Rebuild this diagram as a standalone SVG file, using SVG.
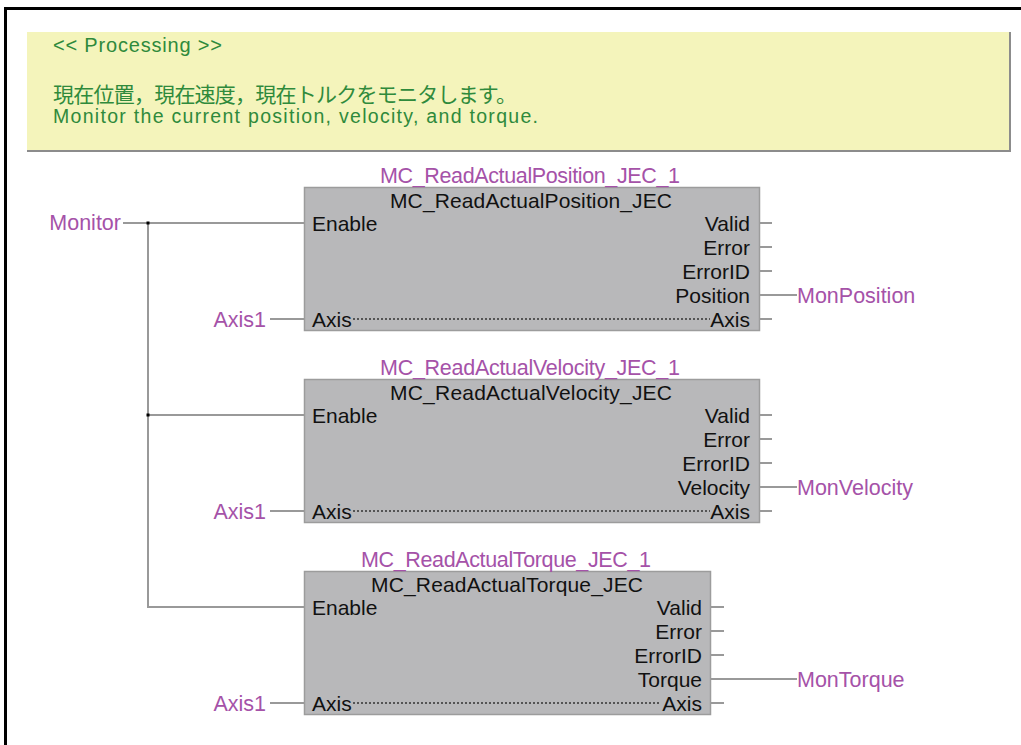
<svg xmlns="http://www.w3.org/2000/svg" width="1021" height="745" viewBox="0 0 1021 745">
<style>
.frame{fill:none;stroke:#000;stroke-width:3}
.note{fill:#F4F4BB}
.noteedge{fill:none;stroke:#8c8c8c;stroke-width:2}
.gt{fill:#2F8A3C;font-family:"Liberation Sans","Noto Sans CJK JP",sans-serif}
.blk{fill:#B8B8BA;stroke:#9c9c9c;stroke-width:1.5}
.pin{fill:#111;font-family:"Liberation Sans",Arial,sans-serif;font-size:21px}
.var{fill:#A552A8;font-family:"Liberation Sans",Arial,sans-serif;font-size:21.5px}
.w{fill:none;stroke:#999;stroke-width:2}
.dot{fill:none;stroke:#333;stroke-width:1.3;stroke-dasharray:2 2}
.end{text-anchor:end}
.mid{text-anchor:middle}
</style>
<rect class="frame" x="5.5" y="8.5" width="1040" height="760"/>
<g id="comment">
<rect class="note" x="27" y="32" width="983" height="119"/>
<polyline class="noteedge" points="1010,32 1010,151 27,151"/>
<text class="gt" x="53" y="52" font-size="20" textLength="169">&lt;&lt; Processing &gt;&gt;</text>
<text class="gt" x="53" y="102" font-size="21" textLength="464" font-family="'Noto Sans CJK JP',sans-serif">現在位置，現在速度，現在トルクをモニタします。</text>
<text class="gt" x="53" y="123" font-size="19.5" textLength="485">Monitor the current position, velocity, and torque.</text>
</g>
<g id="connectors">
<line class="w" x1="123" y1="223" x2="304" y2="223"/>
<line class="w" x1="148" y1="223" x2="148" y2="607"/>
<line class="w" x1="148" y1="415" x2="304" y2="415"/>
<line class="w" x1="147" y1="607" x2="304" y2="607"/>
<rect x="146.5" y="221.5" width="3" height="3" fill="#000"/>
<rect x="146.5" y="413.5" width="3" height="3" fill="#000"/>
<line class="w" x1="270" y1="319" x2="304" y2="319"/>
<line class="w" x1="270" y1="511" x2="304" y2="511"/>
<line class="w" x1="270" y1="703" x2="304" y2="703"/>
<line class="w" x1="760" y1="295" x2="797" y2="295"/>
<line class="w" x1="760" y1="487" x2="797" y2="487"/>
<line class="w" x1="711" y1="679" x2="797" y2="679"/>
<g stroke="#999" stroke-width="2">
<line x1="760" y1="223" x2="772" y2="223"/><line x1="760" y1="247" x2="772" y2="247"/><line x1="760" y1="271" x2="772" y2="271"/><line x1="760" y1="319" x2="772" y2="319"/>
<line x1="760" y1="415" x2="772" y2="415"/><line x1="760" y1="439" x2="772" y2="439"/><line x1="760" y1="463" x2="772" y2="463"/><line x1="760" y1="511" x2="772" y2="511"/>
<line x1="711" y1="607" x2="724" y2="607"/><line x1="711" y1="631" x2="724" y2="631"/><line x1="711" y1="655" x2="724" y2="655"/><line x1="711" y1="703" x2="724" y2="703"/>
</g>
</g>
<g id="monitor"><text class="var end" x="121" y="230">Monitor</text></g>
<g id="block_position">
<rect class="blk" x="304.5" y="187.5" width="455" height="143"/>
<text class="var mid" x="530" y="183" textLength="300">MC_ReadActualPosition_JEC_1</text>
<text class="pin mid" x="531" y="208" textLength="282">MC_ReadActualPosition_JEC</text>
<text class="pin" x="312" y="231">Enable</text>
<text class="pin" x="312" y="327">Axis</text>
<line class="dot" x1="353" y1="319" x2="710" y2="319"/>
<text class="pin end" x="750" y="231">Valid</text>
<text class="pin end" x="750" y="255">Error</text>
<text class="pin end" x="750" y="279">ErrorID</text>
<text class="pin end" x="750" y="303">Position</text>
<text class="pin end" x="750" y="327">Axis</text>
<text class="var end" x="266" y="327">Axis1</text>
<text class="var" x="797" y="303">MonPosition</text>
</g>
<g id="block_velocity">
<rect class="blk" x="304.5" y="379.5" width="455" height="143"/>
<text class="var mid" x="530" y="375" textLength="300">MC_ReadActualVelocity_JEC_1</text>
<text class="pin mid" x="531" y="400" textLength="282">MC_ReadActualVelocity_JEC</text>
<text class="pin" x="312" y="423">Enable</text>
<text class="pin" x="312" y="519">Axis</text>
<line class="dot" x1="353" y1="511" x2="710" y2="511"/>
<text class="pin end" x="750" y="423">Valid</text>
<text class="pin end" x="750" y="447">Error</text>
<text class="pin end" x="750" y="471">ErrorID</text>
<text class="pin end" x="750" y="495">Velocity</text>
<text class="pin end" x="750" y="519">Axis</text>
<text class="var end" x="266" y="519">Axis1</text>
<text class="var" x="797" y="495">MonVelocity</text>
</g>
<g id="block_torque">
<rect class="blk" x="304.5" y="571.5" width="406" height="143"/>
<text class="var mid" x="506" y="567" textLength="290">MC_ReadActualTorque_JEC_1</text>
<text class="pin mid" x="507" y="592" textLength="272">MC_ReadActualTorque_JEC</text>
<text class="pin" x="312" y="615">Enable</text>
<text class="pin" x="312" y="711">Axis</text>
<line class="dot" x1="353" y1="703" x2="661" y2="703"/>
<text class="pin end" x="702" y="615">Valid</text>
<text class="pin end" x="702" y="639">Error</text>
<text class="pin end" x="702" y="663">ErrorID</text>
<text class="pin end" x="702" y="687">Torque</text>
<text class="pin end" x="702" y="711">Axis</text>
<text class="var end" x="266" y="711">Axis1</text>
<text class="var" x="797" y="687">MonTorque</text>
</g>
</svg>
